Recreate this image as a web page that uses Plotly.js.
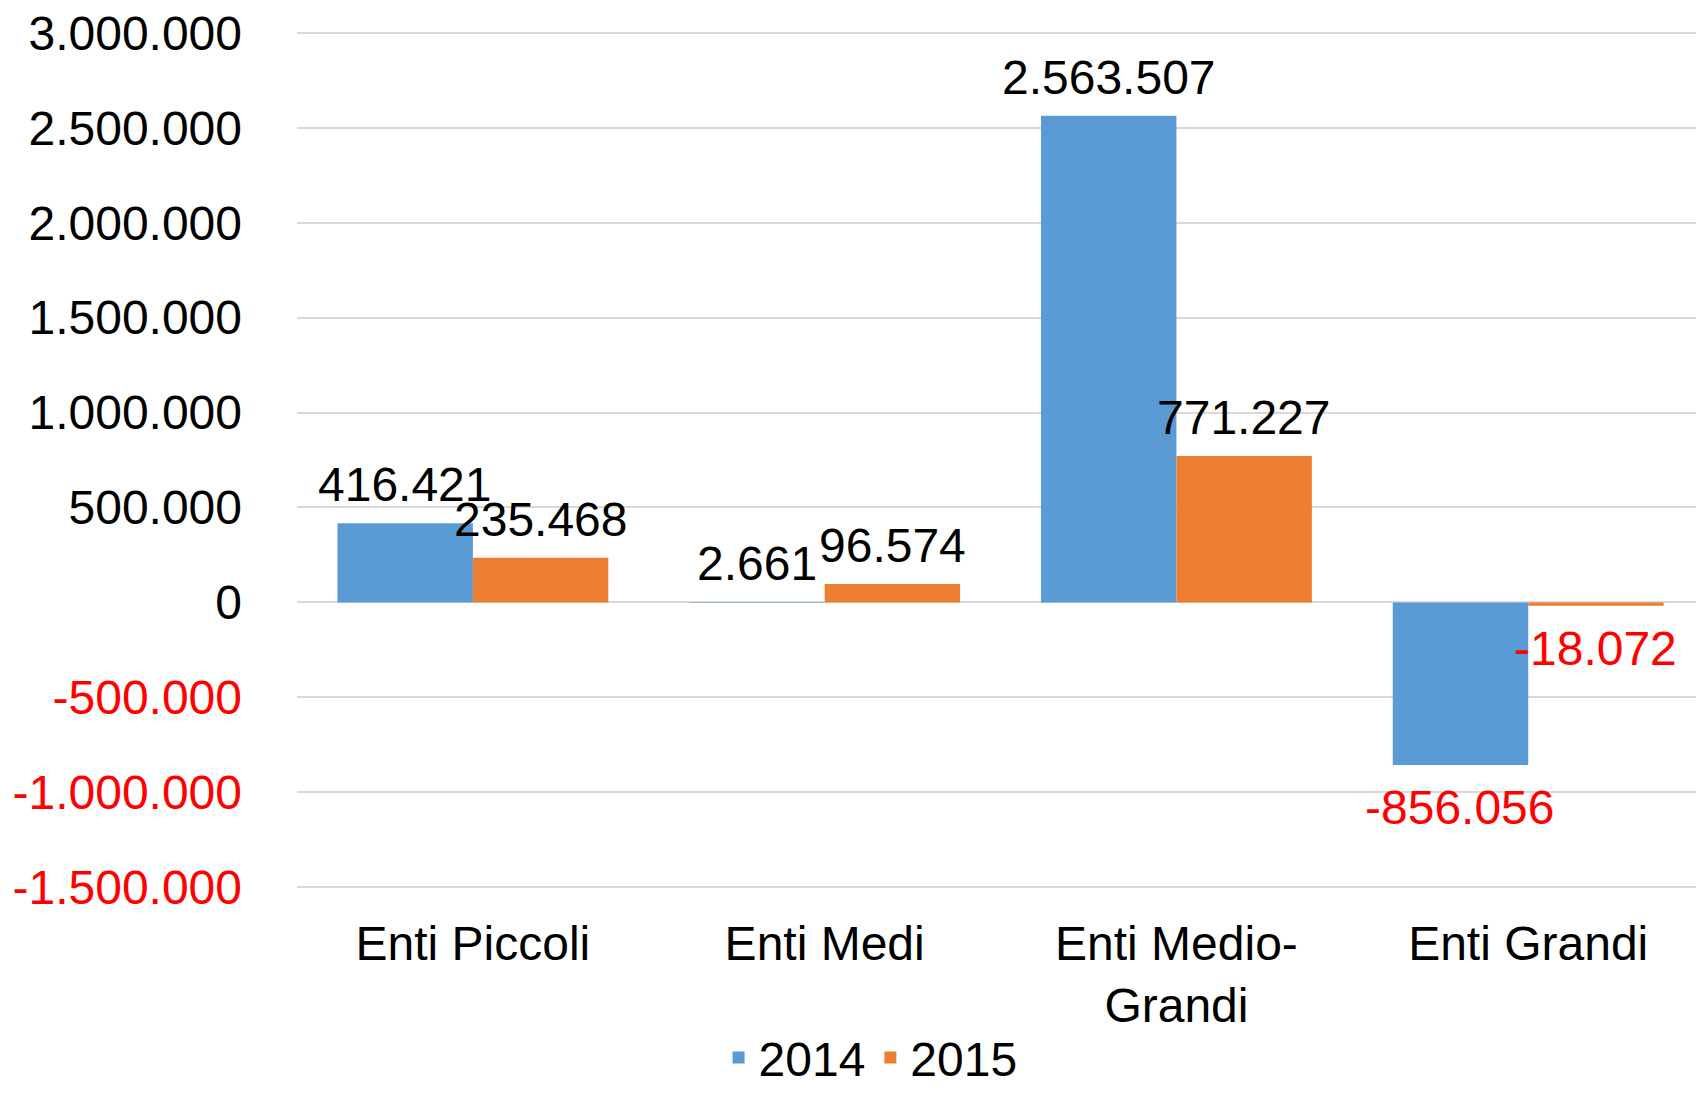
<!DOCTYPE html>
<html>
<head>
<meta charset="utf-8">
<script src="https://cdn.plot.ly/plotly-3.0.1.min.js"></script>
<style>html,body{margin:0;padding:0;background:#fff;}#chart{width:1696px;height:1095px;}</style>
</head>
<body>
<div id="chart"></div>
<script>
const categories = ["Enti Piccoli", "Enti Medi", "Enti Medio-<br>Grandi", "Enti Grandi"];
const series2014 = [416421, 2661, 2563507, -856056];
const series2015 = [235468, 96574, 771227, -18072];
const seriesNames = ["2014", "2015"];
const yTickVals = [-1500000, -1000000, -500000, 0, 500000, 1000000, 1500000, 2000000, 2500000, 3000000];

function fmt(v) {
  const s = Math.abs(Math.round(v)).toString().replace(/\B(?=(\d{3})+(?!\d))/g, ".");
  return (v < 0 ? "-" : "") + s;
}
const RED = "#ff0000";
const BLACK = "#000000";
function colorFor(v) { return v < 0 ? RED : BLACK; }

const FONT = "Liberation Sans, Arial, sans-serif";
const FS = 48;

const W = 1696, H = 1095;
const M = {l: 297, r: 0, t: 29.5, b: 205};
const BARGAP = 0.23;
const XRANGE = [-0.5, 3.477];
const COLORS = ["#5B9BD5", "#ED7D31"];

const data = [series2014, series2015].map((vals, i) => ({
  type: "bar",
  name: seriesNames[i],
  x: categories,
  y: vals,
  marker: {color: COLORS[i], line: {width: 0}},
  hoverinfo: "none"
}));

// data labels placed through the axes' scales, shifted to each grouped bar's centre
const catW = (W - M.l - M.r) / (XRANGE[1] - XRANGE[0]);
const barW = catW * (1 - BARGAP) / 2;
const annotations = [];
[series2014, series2015].forEach((vals, i) => {
  vals.forEach((v, j) => {
    annotations.push({
      xref: "x", yref: "y",
      x: categories[j], y: v,
      text: fmt(v),
      showarrow: false,
      xanchor: "center",
      yanchor: v < 0 ? "top" : "bottom",
      xshift: (i === 0 ? -1 : 1) * barW / 2,
      yshift: v < 0 ? -14 : 10,
      font: {family: FONT, size: FS, color: colorFor(v)}
    });
  });
});

const layout = {
  width: W,
  height: H,
  margin: M,
  paper_bgcolor: "#ffffff",
  plot_bgcolor: "#ffffff",
  font: {family: FONT, size: FS, color: BLACK},
  barmode: "group",
  bargap: BARGAP,
  bargroupgap: 0,
  showlegend: true,
  annotations: annotations,
  legend: {
    orientation: "h",
    x: 0.41, xanchor: "center",
    yref: "container",
    y: 0.034, yanchor: "middle",
    font: {family: FONT, size: FS, color: BLACK}
  },
  xaxis: {
    type: "category",
    range: XRANGE,
    automargin: false,
    showgrid: false,
    zeroline: false,
    showline: false,
    ticks: "",
    ticklabelstandoff: 21,
    tickfont: {family: FONT, size: FS, color: BLACK}
  },
  yaxis: {
    automargin: false,
    range: [-1515000, 3015000],
    tickvals: yTickVals,
    ticktext: yTickVals.map(v => '<span style="color:' + colorFor(v) + '">' + fmt(v) + '</span>'),
    showgrid: true,
    gridcolor: "#d9d9d9",
    gridwidth: 2,
    zeroline: true,
    zerolinecolor: "#d9d9d9",
    zerolinewidth: 2,
    showline: false,
    ticks: "",
    ticklabelstandoff: 54,
    tickfont: {family: FONT, size: FS, color: BLACK}
  }
};

Plotly.newPlot("chart", data, layout, {displayModeBar: false, staticPlot: true});
</script>
</body>
</html>
